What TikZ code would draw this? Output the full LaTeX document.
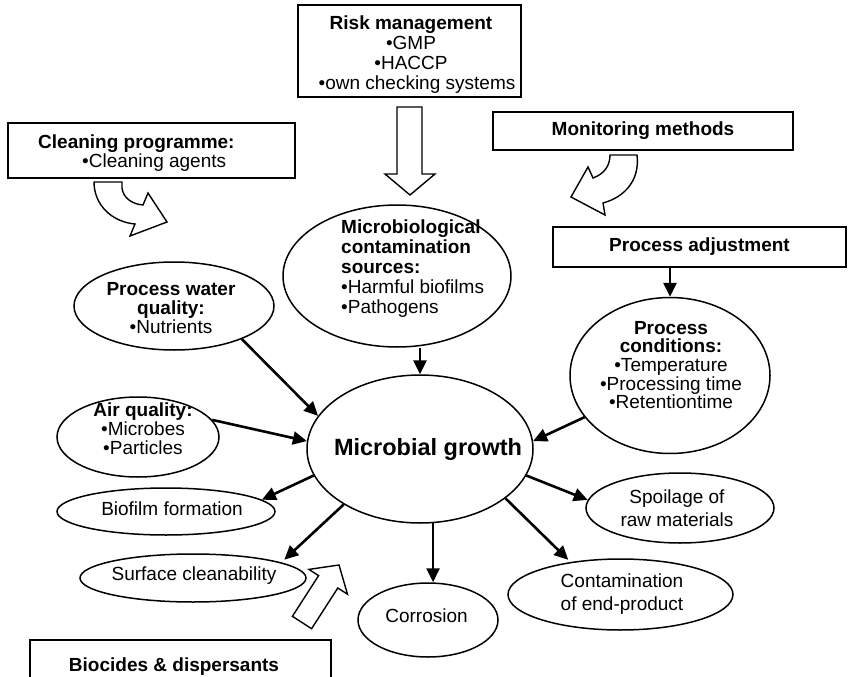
\documentclass[tikz,border=0pt]{standalone}
\usepackage{fontspec}
\setmainfont{Liberation Sans}
\usetikzlibrary{shapes.geometric,arrows.meta}
\begin{document}
\begin{tikzpicture}[x=1pt,y=-1pt,
  ell/.style={draw, ellipse, line width=1.5pt, inner sep=0pt},
  boxn/.style={draw, rectangle, line width=1.5pt, inner sep=0pt, align=center, font=\fontsize{19}{20}\selectfont\bfseries},
  txt/.style={inner sep=0pt, align=center, font=\fontsize{19}{20}\selectfont},
  arr/.style={line width=2.6pt, -{Triangle[length=14pt,width=13pt]}},
  hollow/.style={draw, line width=1.4pt, line join=miter, fill=white}]
\useasboundingbox[fill=white] (0,0) rectangle (849,677);

% boxes
\node[boxn, minimum width=223pt, minimum height=92pt] (rm) at (409.5,51) {};
\node[txt, font=\fontsize{19}{20}\selectfont] (rmT) at (411,54.5)
  {\bfseries Risk management\\•GMP\\•HACCP\\\hspace*{12pt}•own checking systems};
\node[boxn, minimum width=287pt, minimum height=55pt] (cp) at (151.5,150.5) {};
\node[txt, anchor=base west] (cpA) at (38,148) {\bfseries Cleaning programme:};
\node[txt, anchor=base west] (cpB) at (82,167) {•Cleaning agents};
\node[boxn, minimum width=300pt, minimum height=38pt] (mm) at (643,131) {Monitoring methods};
\node[boxn, minimum width=293pt, minimum height=40pt] (pa) at (699.5,247) {Process adjustment};
\node[boxn, minimum width=301pt, minimum height=60pt] (bd) at (180.5,670) {};
\node[txt, anchor=base] (bdT) at (174,671) {\bfseries Biocides \& dispersants};

% ellipses
\node[ell, minimum width=228pt, minimum height=142pt] (mcs) at (397,276) {};
\node[ell, minimum width=200pt, minimum height=88pt] (pwq) at (174,306) {};
\node[ell, minimum width=162pt, minimum height=80pt] (air) at (138,437) {};
\node[ell, minimum width=226pt, minimum height=148pt] (mg) at (420,449) {};
\node[ell, minimum width=218pt, minimum height=47pt] (bf) at (166,511.5) {};
\node[ell, minimum width=226pt, minimum height=48pt] (sc) at (193,578) {};
\node[ell, minimum width=140pt, minimum height=74pt] (cor) at (428,620) {};
\node[ell, minimum width=200pt, minimum height=156pt] (pc) at (670,375.5) {};
\node[ell, minimum width=188pt, minimum height=70pt] (sp) at (680,508) {};
\node[ell, minimum width=225pt, minimum height=71pt] (ce) at (620.5,594.5) {};

% ellipse texts
\node[txt, align=left, anchor=west] (mcsT) at (341,269)
  {\bfseries Microbiological\\\bfseries contamination\\\bfseries sources:\\•Harmful biofilms\\•Pathogens};
\node[txt, font=\fontsize{19}{19}\selectfont] (pwqT) at (171,308)
  {\bfseries Process water\\\bfseries quality:\\•Nutrients};
\node[txt, font=\fontsize{19}{19}\selectfont] (airT) at (143,429)
  {\bfseries Air quality:\\•Microbes\\•Particles};
\node[txt, font=\fontsize{23.5}{26}\selectfont\bfseries] (mgT) at (428,449) {Microbial growth};
\node[txt] (bfT) at (172,509) {Biofilm formation};
\node[txt] (scT) at (194,576) {Surface cleanability};
\node[txt] (corT) at (426.5,616) {Corrosion};
\node[txt, font=\fontsize{19}{18.7}\selectfont] (pcT) at (671,365)
  {\bfseries Process\\\bfseries conditions:\\•Temperature\\•Processing time\\•Retentiontime};
\node[txt, font=\fontsize{19}{22.5}\selectfont] (spT) at (677,508) {Spoilage of\\raw materials};
\node[txt, font=\fontsize{19}{23}\selectfont] (ceT) at (622,594) {Contamination\\of end-product};

% connectors
\draw[arr] (pwq.-26) -- (mg.162);
\draw[arr] (air.13) -- (mg.176);
\draw[arr] (mcs.south -| mg.north) -- (mg.north);
\draw[arr] (pc.206) -- (mg.4);
\draw[arr] (pa.south -| pc.north) -- (pc.north);
\draw[arr] (mg.194) -- (bf.7);
\draw[arr, shorten >=4pt] (mg.216) -- (sc.10);
\draw[arr] (mg.-80) -- (mg.-80 |- cor.north);
\draw[arr] (mg.-14) -- (sp.175);
\draw[arr, shorten >=3pt] (mg.-30) -- (ce.147);

% hollow arrows
\draw[hollow] (397,107) -- (422,107) -- (422,174) -- (435,174) -- (410,195) -- (385,174) -- (397,174) -- cycle;
\draw[hollow] (94,182) -- (122,182) -- (122,188) .. controls (123,197) and (131,204) .. (143,205)
  -- (148,193) -- (167,222) -- (130,236) -- (135,224) .. controls (112,222) and (94,205) .. (94,182) -- cycle;
\draw[hollow] (610,155) -- (637,155) .. controls (640,180) and (625,197) .. (603,203)
  -- (605,215) -- (571,197) -- (588,167) -- (593,178) .. controls (604,174) and (610,166) .. (610,155) -- cycle;
\draw[hollow] (292.4,616.3) -- (311.6,628.7) -- (337.8,588) -- (347.5,594.2) -- (339,565) -- (308.9,569.4) -- (318.6,575.6) -- cycle;
\end{tikzpicture}
\end{document}
